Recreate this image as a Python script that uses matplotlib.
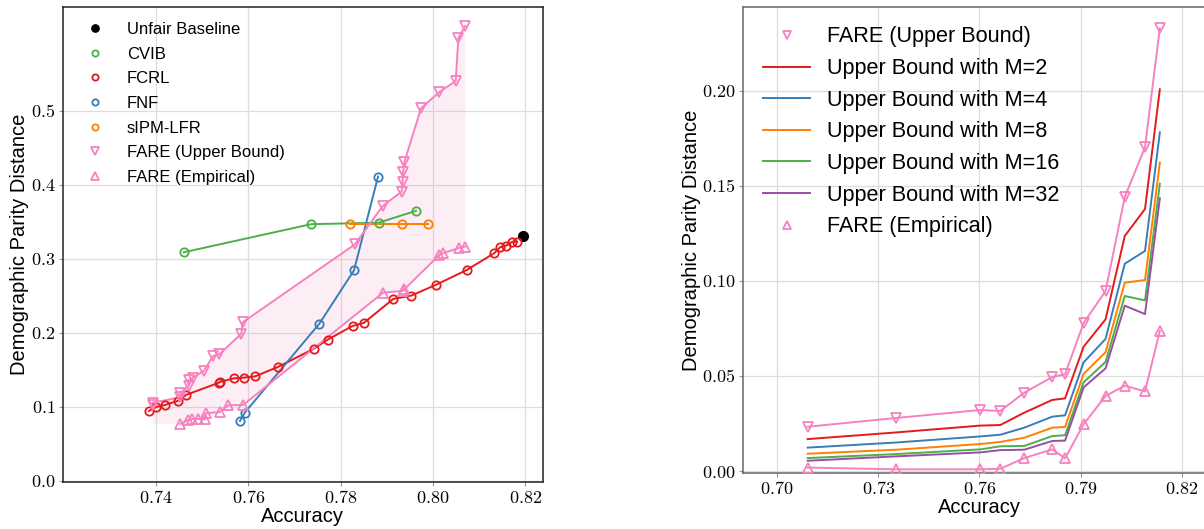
import matplotlib
matplotlib.use("Agg")
import matplotlib.pyplot as plt
from matplotlib.ticker import FuncFormatter, FixedLocator
import numpy as np

plt.rcParams['font.family'] = ['Liberation Sans', 'DejaVu Sans']
plt.rcParams['mathtext.fontset'] = 'cm'

# ---------------- Left panel data ----------------
unfair_acc = [0.8194]
unfair_dp = [0.331]

cvib_acc = [0.7460, 0.7736, 0.7882, 0.7963]
cvib_dp = [0.309, 0.347, 0.349, 0.365]

fcrl_acc = [0.7385, 0.7401, 0.7420, 0.7449, 0.7465, 0.7537, 0.7538, 0.7569, 0.7590,
            0.7615, 0.7664, 0.7743, 0.7772, 0.7826, 0.7850, 0.7914, 0.7953, 0.8007,
            0.8073, 0.8133, 0.8145, 0.8158, 0.8171, 0.8182]
fcrl_dp = [0.0946, 0.1000, 0.1027, 0.1086, 0.1162, 0.1329, 0.1338, 0.1387, 0.1396,
           0.1414, 0.1540, 0.1790, 0.1910, 0.2095, 0.2135, 0.2460, 0.2505, 0.2653,
           0.2851, 0.3080, 0.3158, 0.3180, 0.3230, 0.3234]

fnf_acc = [0.7582, 0.7592, 0.7754, 0.7829, 0.7881]
fnf_dp = [0.081, 0.092, 0.2126, 0.2847, 0.4113]

sipm_acc = [0.7821, 0.7932, 0.7989]
sipm_dp = [0.347, 0.347, 0.347]

fare_up_acc = [0.7393, 0.7393, 0.7453, 0.7453, 0.7471, 0.7471, 0.7480, 0.7504, 0.7524,
               0.7537, 0.7585, 0.7588, 0.7831, 0.7891, 0.7932, 0.7934, 0.7935, 0.7938,
               0.7974, 0.8013, 0.8049, 0.8055, 0.8070]
fare_up_dp = [0.1027, 0.1059, 0.1130, 0.1194, 0.1284, 0.1365, 0.1396, 0.1490, 0.1690,
              0.1710, 0.1990, 0.2144, 0.3198, 0.3716, 0.3910, 0.4040, 0.4170, 0.4310,
              0.5036, 0.5252, 0.5405, 0.5990, 0.6150]

fare_emp_acc = [0.7453, 0.7470, 0.7479, 0.7492, 0.7507, 0.7508, 0.7539, 0.7557, 0.7589,
                0.7892, 0.7935, 0.7938, 0.8013, 0.8022, 0.8056, 0.8070]
fare_emp_dp = [0.0770, 0.0824, 0.0838, 0.0838, 0.0833, 0.0914, 0.0932, 0.1023, 0.1027,
               0.2545, 0.2568, 0.2590, 0.3050, 0.3077, 0.3149, 0.3167]

left_xticks = [0.74, 0.76, 0.78, 0.80, 0.82]
left_yticks = [0.0, 0.1, 0.2, 0.3, 0.4, 0.5]

# ---------------- Right panel data ----------------
r_acc = [0.7091, 0.7353, 0.7603, 0.7662, 0.7733, 0.7816, 0.7854, 0.7909, 0.7974,
         0.8031, 0.8091, 0.8135]
r_upper = [0.0233, 0.0279, 0.0321, 0.0316, 0.0412, 0.0495, 0.0509, 0.0779, 0.0947,
           0.1442, 0.1704, 0.2330]
r_emp = [0.0018, 0.0009, 0.0009, 0.0012, 0.0068, 0.0114, 0.0067, 0.0246, 0.0395,
         0.0449, 0.0419, 0.0737]
r_m2 = [0.0168, 0.0203, 0.0239, 0.0242, 0.0307, 0.0374, 0.0382, 0.0654, 0.0798,
        0.1237, 0.1379, 0.2009]
r_m4 = [0.0123, 0.0150, 0.0182, 0.0191, 0.0228, 0.0286, 0.0293, 0.0572, 0.0695,
        0.1091, 0.1158, 0.1782]
r_m8 = [0.0091, 0.0112, 0.0142, 0.0153, 0.0175, 0.0228, 0.0232, 0.0511, 0.0625,
        0.0991, 0.1005, 0.1623]
r_m16 = [0.0068, 0.0089, 0.0114, 0.0130, 0.0132, 0.0184, 0.0188, 0.0467, 0.0574,
         0.0921, 0.0898, 0.1512]
r_m32 = [0.0054, 0.0077, 0.0098, 0.0110, 0.0112, 0.0158, 0.0160, 0.0440, 0.0540,
         0.0870, 0.0826, 0.1435]
m_labels = ["Upper Bound with M=2", "Upper Bound with M=4", "Upper Bound with M=8",
            "Upper Bound with M=16", "Upper Bound with M=32"]

right_xticks = [0.70, 0.73, 0.76, 0.79, 0.82]
right_yticks = [0.00, 0.05, 0.10, 0.15, 0.20]

# colors (Set1)
RED = '#e41a1c'
BLUE = '#377eb8'
GREEN = '#4daf4a'
PURPLE = '#984ea3'
ORANGE = '#ff7f00'
PINK = '#f781bf'

W, H = 1204, 529
fig = plt.figure(figsize=(W / 100, H / 100), dpi=100)

ax1 = fig.add_axes([63 / W, (H - 482.3) / H, 479.5 / W, 475.3 / H])
ax2 = fig.add_axes([743.3 / W, (H - 473) / H, 472.2 / W, 466 / H])

lw = 1.4
ms = 6
mew = 1.3

# ---- left ----
fx = np.concatenate([fare_up_acc, fare_emp_acc[::-1], [fare_up_acc[0]]])
fy = np.concatenate([fare_up_dp, fare_emp_dp[::-1], [fare_emp_dp[0]]])
ax1.fill(fx, fy, color=PINK, alpha=0.13, lw=0, zorder=1)

ax1.plot(cvib_acc, cvib_dp, color=GREEN, lw=lw, zorder=2)
ax1.plot(fcrl_acc, fcrl_dp, color=RED, lw=lw, zorder=2)
ax1.plot(fnf_acc, fnf_dp, color=BLUE, lw=lw, zorder=2)
ax1.plot(sipm_acc, sipm_dp, color=ORANGE, lw=lw, zorder=2)
ax1.plot(fare_up_acc, fare_up_dp, color=PINK, lw=lw, zorder=2)
ax1.plot(fare_emp_acc, fare_emp_dp, color=PINK, lw=lw, zorder=2)

ax1.plot(unfair_acc, unfair_dp, ls='none', marker='o', color='black', ms=7, label='Unfair Baseline', zorder=3)
ax1.plot(cvib_acc, cvib_dp, ls='none', marker='o', mfc='none', mec=GREEN, ms=ms, mew=mew, label='CVIB', zorder=3)
ax1.plot(fcrl_acc, fcrl_dp, ls='none', marker='o', mfc='none', mec=RED, ms=ms, mew=mew, label='FCRL', zorder=3)
ax1.plot(fnf_acc, fnf_dp, ls='none', marker='o', mfc='none', mec=BLUE, ms=ms, mew=mew, label='FNF', zorder=3)
ax1.plot(sipm_acc, sipm_dp, ls='none', marker='o', mfc='none', mec=ORANGE, ms=ms, mew=mew, label='sIPM-LFR', zorder=3)
ax1.plot(fare_up_acc, fare_up_dp, ls='none', marker='v', mfc='none', mec=PINK, ms=ms + 1, mew=mew, label='FARE (Upper Bound)', zorder=3)
ax1.plot(fare_emp_acc, fare_emp_dp, ls='none', marker='^', mfc='none', mec=PINK, ms=ms + 1, mew=mew, label='FARE (Empirical)', zorder=3)

ax1.set_xlim(0.7199, 0.8237)
ax1.set_ylim(-0.0018, 0.6405)

# ---- right ----
ax2.plot(r_acc, r_upper, color=PINK, lw=lw, zorder=2)
ax2.plot(r_acc, r_upper, ls='none', marker='v', mfc='none', mec=PINK, ms=ms + 1, mew=mew,
         label='FARE (Upper Bound)', zorder=3)
for vals, col, lab in zip([r_m2, r_m4, r_m8, r_m16, r_m32],
                          [RED, BLUE, ORANGE, GREEN, PURPLE], m_labels):
    ax2.plot(r_acc, vals, color=col, lw=lw, label=lab, zorder=2)
ax2.plot(r_acc, r_emp, color=PINK, lw=lw, zorder=2)
ax2.plot(r_acc, r_emp, ls='none', marker='^', mfc='none', mec=PINK, ms=ms + 1, mew=mew,
         label='FARE (Empirical)', zorder=3)

ax2.set_xlim(0.6900, 0.8300)
ax2.set_ylim(-0.00105, 0.2442)

# ---- styling ----
def fmt(decimals):
    return FuncFormatter(lambda v, p: r'$%.*f$' % (decimals, v))

for ax, xt, yt, xd, yd, spc in [(ax1, left_xticks, left_yticks, 2, 1, '#222222'),
                                (ax2, right_xticks, right_yticks, 2, 2, '#666666')]:
    ax.xaxis.set_major_locator(FixedLocator(xt))
    ax.yaxis.set_major_locator(FixedLocator(yt))
    ax.xaxis.set_major_formatter(fmt(xd))
    ax.yaxis.set_major_formatter(fmt(yd))
    ax.grid(True, color='#dddddd', lw=0.9, zorder=0)
    ax.set_axisbelow(True)
    for s in ax.spines.values():
        s.set_color(spc)
        s.set_linewidth(1.1)
    ax.tick_params(axis='both', labelsize=13, length=3, width=0.8, color='#999999', pad=2.5)
    ax.set_xlabel('Accuracy', fontsize=14.5, labelpad=0)
    ax.set_ylabel('Demographic Parity Distance', fontsize=14.5, labelpad=1)

ax1.legend(loc='upper left', frameon=False, fontsize=12, markerscale=0.75,
           labelspacing=0.58, handlelength=2.0, handletextpad=0.92, borderaxespad=0.5,
           borderpad=0.4)
ax2.legend(loc='upper left', frameon=False, fontsize=15.6, markerscale=0.75,
           labelspacing=0.49, handlelength=2.2, handletextpad=0.75, borderaxespad=0.5,
           borderpad=0.4)

fig.savefig('out.png', dpi=100)
